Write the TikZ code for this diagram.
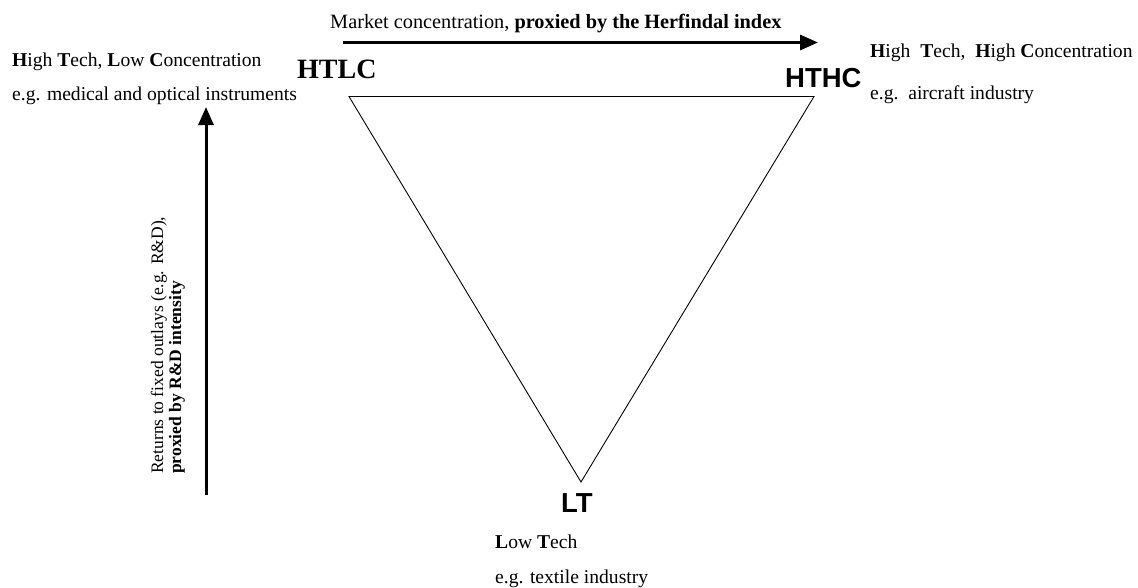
\documentclass[tikz,border=0pt]{standalone}
\usepackage{fontspec}
\setmainfont{Liberation Serif}
\newfontfamily\arialfont{Liberation Sans}
\usetikzlibrary{arrows.meta}
\tikzset{
  desc/.style={inner sep=0pt, anchor=base west, font=\fontsize{19.6}{22}\selectfont},
  toplabel/.style={inner sep=0pt, anchor=base west, font=\fontsize{20.3}{22}\selectfont},
  vlabel/.style={inner sep=0pt, anchor=base west, rotate=90, font=\fontsize{17.5}{20}\selectfont},
  corner serif/.style={inner sep=0pt, anchor=base west, font=\fontsize{28}{30}\selectfont\bfseries},
  corner sans/.style={inner sep=0pt, anchor=base west, font=\fontsize{27.5}{30}\selectfont\arialfont\bfseries},
  axis/.style={line width=3pt, -{Triangle[length=18pt,width=15pt]}},
  edge/.style={line width=0.9pt}
}
\begin{document}
\begin{tikzpicture}[x=1pt,y=-1pt]
\useasboundingbox (0,0) rectangle (1138,587);

% triangle of industry types
\coordinate (tl) at (349,96.5);
\coordinate (tr) at (814,96.5);
\coordinate (bt) at (581,482);
\draw[edge] (tl) -- (tr) -- (bt) -- cycle;

% corner labels
\node[corner serif] (htlc) at (297,78) {HTLC};
\node[corner sans] (hthc) at (785,87) {HTHC};
\node[corner sans] (lt) at (561,512) {LT};

% descriptions
\node[desc] (htlcA) at (12,66) {\textbf{H}igh \textbf{T}ech, \textbf{L}ow \textbf{C}oncentration};
\node[desc] (htlcB) at (12,100) {e.g. medical and optical instruments};
\node[desc] (hthcA) at (870,57) {\textbf{H}igh\ \ \textbf{T}ech,\ \ \textbf{H}igh \textbf{C}oncentration};
\node[desc] (hthcB) at (870,99) {e.g.\ \ aircraft industry};
\node[desc] (ltA) at (495,548) {\textbf{L}ow \textbf{T}ech};
\node[desc] (ltB) at (495,583) {e.g. textile industry};

% axes
\coordinate (hx0) at (343,42.5);
\coordinate (hx1) at (818,42.5);
\draw[axis] (hx0) -- (hx1);
\node[toplabel] (hlabel) at (330,28) {Market concentration, \textbf{proxied by the Herfindal index}};

\coordinate (vy0) at (206,495);
\coordinate (vy1) at (206,107);
\draw[axis] (vy0) -- (vy1);
\node[vlabel] (vlabelA) at (163,474) {Returns to fixed outlays (e.g. R\&D),};
\node[vlabel] (vlabelB) at (181,474) {\textbf{proxied by R\&D intensity}};
\end{tikzpicture}
\end{document}
